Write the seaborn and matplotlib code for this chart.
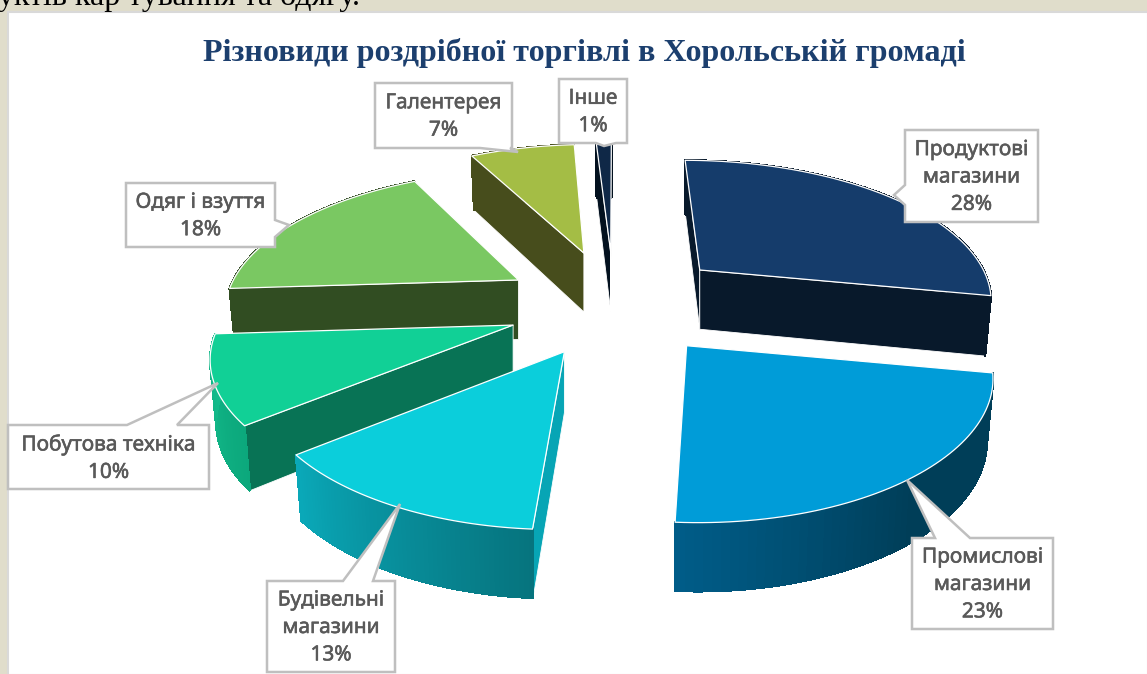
"""
Exploded 3D pie of retail types, perspective worked out from the shares.
Run: python plot.py
"""
import numpy as np
import matplotlib
matplotlib.use('Agg')
import matplotlib.pyplot as plt
import matplotlib.patheffects as pe
import seaborn as sns

TITLE = 'Різновиди роздрібної торгівлі в Хорольській громаді'
TOP_TEXT = 'уктів кар тування та одягу.'

labels = ['Продуктові\nмагазини', 'Промислові\nмагазини', 'Будівельні\nмагазини',
          'Побутова техніка', 'Одяг і взуття', 'Галентерея', 'Інше']
shares = [28, 23, 13, 10, 18, 7, 1]

top_colors = ['#153C6B', '#009CD8', '#0BCEDB', '#11D096', '#7AC862', '#A4BD45', '#0F2847']
side_colors = ['#08192B', '#003E58', '#07A5B5', '#087355', '#314D22', '#474D1C', '#03111F']
# outer wall gradient, in clockwise order along the arc
arc_colors = [['#08192B', '#08192B'],
              ['#003E58', '#003E58', '#005C88'],
              ['#06747E', '#0AA8B8'],
              ['#0CA87C', '#14BC8C'],
              ['#314D22', '#314D22'],
              ['#474D1C', '#474D1C'],
              ['#03111F', '#03111F']]

# label box (left, top, right, bottom), pointer tip, pointer base on the box edge
boxes = [(905, 130, 1038, 222), (912, 538, 1053, 629), (267, 581, 395, 672),
         (8, 425, 209, 489), (126, 183, 275, 247), (375, 83, 512, 148), (559, 79, 627, 143)]
tips = [(894, 195), (907, 480), (400, 504), (218, 383), (289, 225), (518, 152), (604, 146)]
bases = [('left', 185, 205), ('top', 935, 970), ('top', 343, 373), ('top', 127, 177),
         ('right', 220, 237), ('bottom', 480, 510), ('bottom', 596, 616)]

# where the slice apexes sit, with small per-slice nudges in pixels
CX, CY = 614, 301
APEX_RX, APEX_RY = 300, 131.5
APEX_PERSP = 0.253
EXPLODE = 0.38
nudges = [(3, -1), (-3, 2), (7, 2), (9, 5), (0, 2), (-1, -4), (0, -3)]
# size of each slice around its apex
RX, RY = 290, 135
PERSP_X, PERSP_Y = 0.186, 0.206
APEX_WEIGHT = 0.5
LEAN = -50
DEPTH = 60
BOTTOM_SCALE = 0.98


def apex_point(x_plane, y_plane, nudge):
    w = 1 + APEX_PERSP * y_plane
    return CX + APEX_RX * x_plane / w + nudge[0], CY - APEX_RY * y_plane / w + nudge[1]


def rim_point(px, py, x, y, x0, y0, bottom=False):
    """Rim point at unit offset (x, y) from the apex pixel (px, py)."""
    wx = 1 + PERSP_X * (y + APEX_WEIGHT * y0)
    wy = 1 + PERSP_Y * (y + APEX_WEIGHT * y0)
    sx, sy = RX * x / wx + LEAN * y * x0, -RY * y / wy
    if bottom:
        return px + BOTTOM_SCALE * sx, py + sy + DEPTH / np.sqrt(wy)
    return px + sx, py + sy


def shoelace(pts):
    xs, ys = np.array(pts).T
    return np.sum(xs * np.roll(ys, -1) - np.roll(xs, -1) * ys)


def draw_slice(ax, i, start, stop, order):
    mid = (start + stop) / 2
    x0, y0 = EXPLODE * np.sin(mid), EXPLODE * np.cos(mid)
    px, py = apex_point(x0, y0, nudges[i])
    th = np.linspace(start, stop, 60)
    xs, ys = np.sin(th), np.cos(th)
    side = side_colors[i]
    bottom_apex = (px, py + DEPTH / np.sqrt(1 + PERSP_Y * APEX_WEIGHT * y0))

    # radial walls, only the ones turned to the viewer
    for k, sign in [(0, -1), (-1, 1)]:
        pts = [(px, py), rim_point(px, py, xs[k], ys[k], x0, y0),
               rim_point(px, py, xs[k], ys[k], x0, y0, True), bottom_apex]
        if shoelace(pts) * sign > 0:
            ax.fill(*zip(*pts), facecolor=side, edgecolor='white', lw=0.6, zorder=order)

    grad = sns.blend_palette(arc_colors[i], len(xs) - 1)
    tx, ty = rim_point(px, py, xs, ys, x0, y0)
    bx, by = rim_point(px, py, xs, ys, x0, y0, True)
    for k, col in enumerate(grad):
        ax.fill([tx[k], tx[k + 1], bx[k + 1], bx[k]], [ty[k], ty[k + 1], by[k + 1], by[k]],
                facecolor=col, edgecolor=col, lw=1, antialiased=False, zorder=order + 0.2)

    ax.fill(np.r_[px, tx], np.r_[py, ty], facecolor=top_colors[i],
            edgecolor='white', lw=0.9, joinstyle='round', zorder=order + 0.5)


def callout(ax, box, tip, base):
    """White label box with a pointer running to the slice."""
    l, t, r, b = box
    side, p, q = base
    if side == 'top':
        pts = [(l, t), (p, t), tip, (q, t), (r, t), (r, b), (l, b)]
    elif side == 'right':
        pts = [(l, t), (r, t), (r, p), tip, (r, q), (r, b), (l, b)]
    elif side == 'bottom':
        pts = [(l, t), (r, t), (r, b), (q, b), tip, (p, b), (l, b)]
    else:
        pts = [(l, t), (r, t), (r, b), (l, b), (l, q), tip, (l, p)]
    ax.fill(*zip(*pts), facecolor='white', edgecolor='#BFBFBF', lw=1.8,
            joinstyle='miter', zorder=20)


sns.set_theme(style='white')
plt.rcParams['font.family'] = ['Noto Sans', 'DejaVu Sans']

fig = plt.figure(figsize=(11.47, 6.74), dpi=100, facecolor='#E0DDCB')
ax = fig.add_axes([0, 0, 1, 1])
ax.set_xlim(0, 1147)
ax.set_ylim(674, 0)
ax.axis('off')

# white sheet on the beige page
ax.fill([8, 1148, 1148, 8], [12, 12, 675, 675], facecolor='white',
        edgecolor='#D9D9D9', lw=1.5, zorder=0)
ax.text(-2, 5, TOP_TEXT, family='Liberation Serif', fontsize=23, color='black',
        va='baseline', ha='left', zorder=1)
ax.text(584, 53, TITLE, family='Liberation Serif', fontweight='bold', fontsize=23,
        color='#1C3F6E', ha='center', va='center', zorder=1)

edges = np.r_[0, np.cumsum(shares)] / np.sum(shares) * 2 * np.pi

# painter's order, far slices first
far_y = [np.cos((edges[i] + edges[i + 1]) / 2) for i in range(len(shares))]
draw_order = {i: 2 + n for n, i in enumerate(np.argsort(far_y)[::-1])}
for i in range(len(shares)):
    draw_slice(ax, i, edges[i], edges[i + 1], draw_order[i])

for name, share, box, tip, base in zip(labels, shares, boxes, tips, bases):
    callout(ax, box, tip, base)
    ax.text((box[0] + box[2]) / 2, (box[1] + box[3]) / 2 + 1, f'{name}\n{share}%',
            ha='center', va='center', fontsize=15, color='#595959', linespacing=1.4,
            path_effects=[pe.withStroke(linewidth=0.4, foreground='#595959')], zorder=21)

fig.savefig('out.png', dpi=100, facecolor=fig.get_facecolor())
